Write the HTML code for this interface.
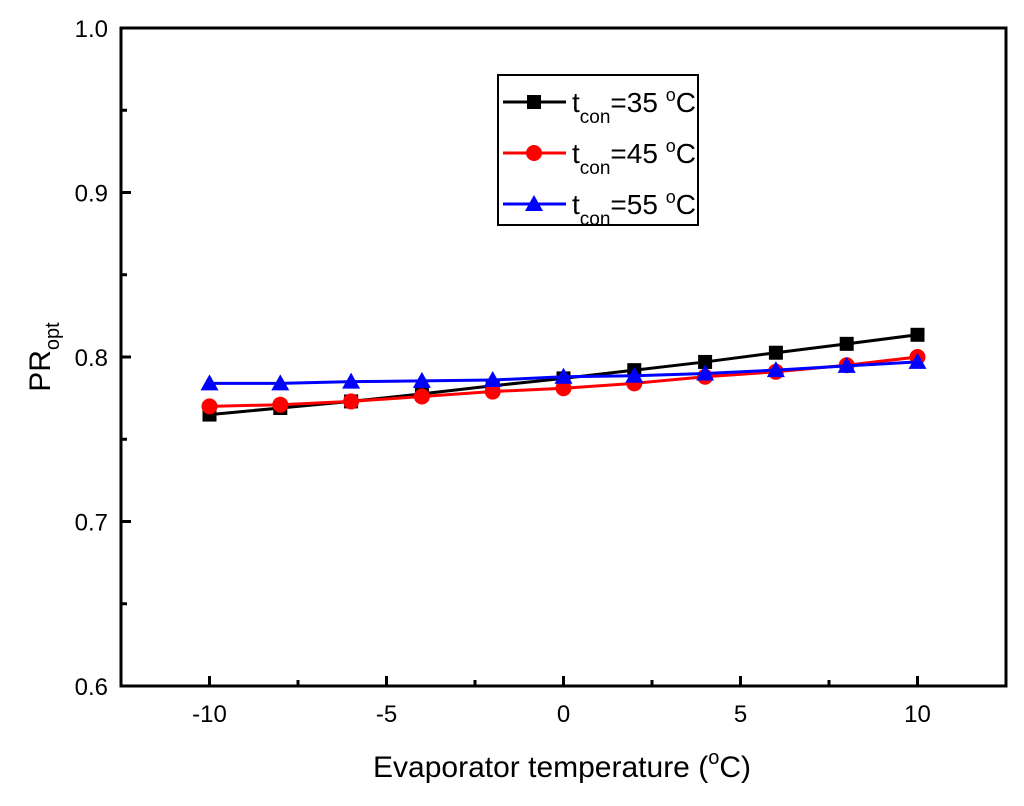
<!DOCTYPE html>
<html><head><meta charset="utf-8"><style>
body{margin:0;background:#fff}
svg text{font-family:"Liberation Sans",Arial,sans-serif}
</style></head><body>
<svg id="chart" width="1024" height="801" xmlns="http://www.w3.org/2000/svg">
<g id="axes"></g>
<g id="series"></g>
<text x="562" y="777" font-size="30" text-anchor="middle">Evaporator temperature (<tspan font-size="20" dy="-13">o</tspan><tspan dy="13">C)</tspan></text>
<text transform="translate(50,357) rotate(-90)" font-size="30" text-anchor="middle">PR<tspan font-size="20" dy="9">opt</tspan></text>
<g>
<rect x="498" y="75" width="200" height="150" fill="#fff" stroke="#000" stroke-width="2"/>
<g id="legend-items"></g>
</g>
</svg>
<script>
const categories=[-10,-8,-6,-4,-2,0,2,4,6,8,10];
const s35=[0.765,0.769,0.773,0.7776,0.7825,0.787,0.792,0.797,0.8026,0.808,0.8135];
const s45=[0.770,0.771,0.773,0.776,0.779,0.781,0.784,0.788,0.791,0.795,0.800];
const s55=[0.784,0.784,0.785,0.7855,0.786,0.788,0.7886,0.790,0.792,0.7946,0.797];
const xTicks=[-10,-5,0,5,10];
const yTicks=[0.6,0.7,0.8,0.9,1.0];
const X0=121,X1=1006,Y0=686,Y1=28;
const xmin=-12.5,xmax=12.5,ymin=0.6,ymax=1.0;
const sx=v=>X0+(v-xmin)/(xmax-xmin)*(X1-X0);
const sy=v=>Y0-(v-ymin)/(ymax-ymin)*(Y0-Y1);
const NS="http://www.w3.org/2000/svg";
function mk(tag,attrs,parent){const e=document.createElementNS(NS,tag);for(const k in attrs)e.setAttribute(k,attrs[k]);parent.appendChild(e);return e;}
const ax=document.getElementById('axes');
const frame=mk('rect',{x:X0,y:Y1,width:X1-X0,height:Y0-Y1,fill:'none',stroke:'#000','stroke-width':3},ax);


for(let v=-12.5;v<=12.5+1e-9;v+=2.5){
  const major=xTicks.some(t=>Math.abs(t-v)<1e-9);const L=major?10:6;const x=sx(v);
  if(v<=-12.5||v>=12.5)continue;
  const t=mk('line',{x1:x,x2:x,y1:Y0,y2:Y0-L,stroke:'#000','stroke-width':3},ax);
  
  
}
xTicks.forEach(v=>{const t=mk('text',{x:sx(v),y:722,'font-size':24,'text-anchor':'middle'},ax);t.textContent=v;
  
  });
for(let i=0;i<=8;i++){const v=0.6+i*0.05;const major=i%2==0;const L=major?10:6;const y=sy(v);
  if(i==0||i==8)continue;
  const t=mk('line',{x1:X0,x2:X0+L,y1:y,y2:y,stroke:'#000','stroke-width':3},ax);
  
  
}
yTicks.forEach(v=>{const t=mk('text',{x:108,y:sy(v)+9,'font-size':24,'text-anchor':'end'},ax);t.textContent=v.toFixed(1);
  
  });
function marker(type,x,y,c,p){let m;
  if(type=='sq')m=mk('rect',{x:x-7,y:y-7,width:14,height:14,fill:c},p);
  else if(type=='ci')m=mk('circle',{cx:x,cy:y,r:8,fill:c},p);
  else m=mk('polygon',{points:`${x},${y-9} ${x-9},${y+7} ${x+9},${y+7}`,fill:c},p);
  return m;}
const sg=document.getElementById('series');
const series=[[s35,'#000','sq','35'],[s45,'#ff0000','ci','45'],[s55,'#0000ff','tr','55']];
series.forEach(([d,c,m,n])=>{
  const g=mk('g',{},sg);
  
  
  const pl=mk('polyline',{points:d.map((v,i)=>sx(categories[i])+','+sy(v)).join(' '),fill:'none',stroke:c,'stroke-width':3},g);
  
  
  d.forEach((v,i)=>{const p=marker(m,sx(categories[i]),sy(v),c,g);
    
    });
});
const lg=document.getElementById('legend-items');
series.forEach(([d,c,m,n],i)=>{const y=102+i*51;
  const g=mk('g',{},lg);
  
  
  mk('line',{x1:503,x2:566,y1:y,y2:y,stroke:c,'stroke-width':3},g);
  marker(m,534,y,c,g);
  const t=mk('text',{x:572,y:y+10,'font-size':28},g);
  t.innerHTML=`t<tspan font-size="19" dy="11">con</tspan><tspan dy="-11">=${n} </tspan><tspan font-size="18" dy="-11">o</tspan><tspan dy="11">C</tspan>`;
});
</script>
</body></html>
